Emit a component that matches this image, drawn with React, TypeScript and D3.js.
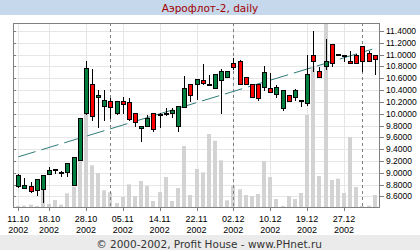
import React from "react";
import * as d3 from "d3";

const dates = [
  "11.10","14.10","15.10","16.10","17.10","18.10","21.10","22.10","23.10","24.10",
  "25.10","28.10","29.10","30.10","31.10","01.11","04.11","05.11","06.11","08.11",
  "11.11","12.11","13.11","14.11","15.11","18.11","19.11","20.11","21.11","22.11",
  "25.11","26.11","27.11","28.11","29.11","02.12","03.12","04.12","05.12","06.12",
  "09.12","10.12","11.12","13.12","16.12","17.12","18.12","19.12","20.12","23.12",
  "24.12","25.12","26.12","27.12","30.12","31.12","08.01","09.01","10.01"
];

const opens = [
  8.77,8.75,8.77,8.70,8.72,8.98,9.04,9.00,9.01,8.80,
  9.21,10.01,10.51,10.29,10.135,10.21,10.01,10.21,10.19,10.01,
  9.75,9.80,10.02,10.00,10.02,10.02,9.79,10.11,10.50,10.51,
  10.565,10.49,10.43,10.565,10.62,10.85,10.90,10.62,10.51,10.50,
  10.46,10.43,10.33,10.09,10.31,10.28,10.23,10.175,11.00,10.72,
  10.80,11.175,11.00,10.98,10.90,11.00,11.14,11.03,11.00
];
const highs = [
  8.98,8.91,8.84,8.89,8.97,9.10,9.07,9.03,9.17,9.26,
  9.93,10.89,10.76,10.40,10.40,10.26,10.22,10.28,10.26,10.01,
  9.80,9.97,10.02,10.01,10.10,10.10,10.125,10.64,10.51,10.58,
  10.84,10.66,10.68,10.76,10.72,10.94,10.91,10.62,10.51,10.50,
  10.80,10.69,10.48,10.40,10.31,10.41,10.24,10.99,11.40,10.785,
  11.27,11.18,11.01,11.00,11.06,11.01,11.14,11.06,11.00
];
const lows = [
  8.76,8.75,8.68,8.63,8.50,8.98,9.00,8.94,8.94,8.80,
  9.21,10.00,9.90,9.78,9.90,9.93,10.00,10.01,9.90,9.80,
  9.53,9.80,9.71,9.78,9.97,9.95,9.71,10.11,10.22,10.25,
  10.51,10.49,10.43,10.02,10.62,10.76,10.51,10.51,10.28,10.23,
  10.40,10.36,10.28,10.07,10.21,10.23,10.125,10.15,10.73,10.62,
  10.76,10.80,11.00,10.90,10.85,10.85,10.73,10.90,10.68
];
const closes = [
  8.97,8.80,8.685,8.89,8.97,9.04,9.06,9.02,9.16,9.26,
  9.92,10.77,9.955,10.32,10.23,10.11,10.22,10.17,9.905,9.86,
  9.80,9.92,9.735,10.00,10.01,10.07,10.125,10.43,10.31,10.58,
  10.514,10.51,10.67,10.72,10.72,10.785,10.51,10.51,10.28,10.26,
  10.70,10.36,10.45,10.40,10.21,10.40,10.24,10.68,10.90,10.62,
  10.90,10.85,11.01,11.00,10.85,10.85,10.89,10.90,10.92
];
const volumes = [
  10,13,23,10,170,30,70,23,137,203,
  457,1050,417,340,167,147,40,100,227,110,
  260,210,60,150,300,60,190,610,120,380,
  347,730,663,467,67,213,177,120,110,130,
  460,300,80,10,110,80,140,920,1410,310,
  1950,270,283,140,700,200,10,13,120
];

const xTickLabels = ["11.10","18.10","28.10","05.11","14.11","22.11","02.12","10.12","19.12","27.12"];
const xTickYear = "2002";
const yTickValues = [8.6,8.8,9.0,9.2,9.4,9.6,9.8,10.0,10.2,10.4,10.6,10.8,11.0,11.2,11.4];
const trendIdx = [0, 57.6];
const trendVal = [9.27, 11.092];

const title = "Аэрофлот-2, daily";
const footer = "© 2000-2002, Profit House - www.PHnet.ru";

export default function App() {
  const W = 420, H = 250;
  const L = 13, R = 380, T = 23, B = 207;
  const font = "'Liberation Sans', Arial, sans-serif";
  const wideFont = "'DejaVu Sans', Verdana, sans-serif";

  const x = d3.scaleLinear().domain([0, dates.length - 1]).range([18.3, 374.7]);
  const y = d3.scaleLinear().domain([8.6, 11.4]).range([196.4, 31]);
  const v = d3.scaleLinear().domain([0, 1840]).range([B, T]);
  const fmt = d3.format(".4f");
  const px = (a: number) => Math.round(a) + 0.5;

  const monthStarts = dates
    .map((d, i) => (i > 0 && d.slice(3) !== dates[i - 1].slice(3) ? i : -1))
    .filter((i) => i >= 0);
  const tickIdx = xTickLabels.map((l) => dates.indexOf(l));

  const trendLine = d3
    .line<number>()
    .x((d) => x(trendIdx[d]))
    .y((d) => y(trendVal[d]))([0, 1]);

  return (
    <svg width={W} height={H} style={{ position: "absolute", left: 0, top: 0, display: "block", background: "#fff" }}>
      <defs>
        <clipPath id="plot">
          <rect x={L} y={T} width={R - L} height={B - T} />
        </clipPath>
      </defs>
      <rect x={0} y={0} width={W} height={15} fill="#c5d8ec" />
      <text x={210} y={11.5} textAnchor="middle" fontFamily={wideFont} fontSize={10.5} fill="#a00000">{title}</text>
      <rect x={0} y={235} width={W} height={15} fill="#ebebeb" />
      <text x={209} y={247.5} textAnchor="middle" fontFamily={wideFont} fontSize={10.5} fill="#333">{footer}</text>

      {yTickValues.map((t) => (
        <line key={"hg" + t} x1={L} x2={R} y1={px(y(t))} y2={px(y(t))} stroke="#e6e6e6" />
      ))}
      {tickIdx.map((i) => (
        <line key={"vg" + i} x1={px(x(i))} x2={px(x(i))} y1={T} y2={B} stroke="#e6e6e6" />
      ))}

      <g clipPath="url(#plot)">
        {volumes.map((d, i) => (
          <rect key={"v" + i} x={Math.round(x(i)) - 2} y={v(d)} width={4} height={B - v(d)} fill="#d3d3d3" />
        ))}
      </g>

      {monthStarts.map((i) => (
        <line key={"m" + i} x1={px(x(i))} x2={px(x(i))} y1={T} y2={B} stroke="#808080" strokeDasharray="3,3" />
      ))}

      <path d={trendLine || ""} fill="none" stroke="#2e7b78" strokeWidth={1} strokeDasharray="18,6" />

      <g>
        {dates.map((d, i) => {
          const cx = Math.round(x(i));
          const up = closes[i] >= opens[i];
          const top = Math.round(y(Math.max(opens[i], closes[i])));
          const bot = Math.round(y(Math.min(opens[i], closes[i])));
          return (
            <g key={"c" + i}>
              <line x1={cx + 0.5} x2={cx + 0.5} y1={Math.round(y(highs[i]))} y2={Math.round(y(lows[i])) + 1} stroke="#000" />
              <rect x={cx - 1.5} y={top + 0.5} width={4} height={Math.max(bot - top, 1)} fill={up ? "#00803f" : "#ff0000"} stroke="#000" />
            </g>
          );
        })}
      </g>

      <rect x={L + 0.5} y={T + 0.5} width={R - L - 1} height={B - T} fill="none" stroke="#808080" />

      {yTickValues.map((t) => (
        <g key={"yt" + t}>
          <line x1={L} x2={L + 3} y1={px(y(t))} y2={px(y(t))} stroke="#808080" />
          <line x1={R - 1} x2={R + 4} y1={px(y(t))} y2={px(y(t))} stroke="#808080" />
          <text x={386} y={y(t) + 3} fontFamily={font} fontSize={8.5} fill="#000">{fmt(t)}</text>
        </g>
      ))}

      {tickIdx.map((i, k) => (
        <g key={"xt" + i}>
          <line x1={px(x(i))} x2={px(x(i))} y1={B} y2={B + 4} stroke="#808080" />
          <text x={x(i)} y={221.5} textAnchor="middle" fontFamily={font} fontSize={9} fill="#000">{xTickLabels[k]}</text>
          <text x={x(i)} y={232.5} textAnchor="middle" fontFamily={font} fontSize={9} fill="#000">{xTickYear}</text>
        </g>
      ))}
    </svg>
  );
}
